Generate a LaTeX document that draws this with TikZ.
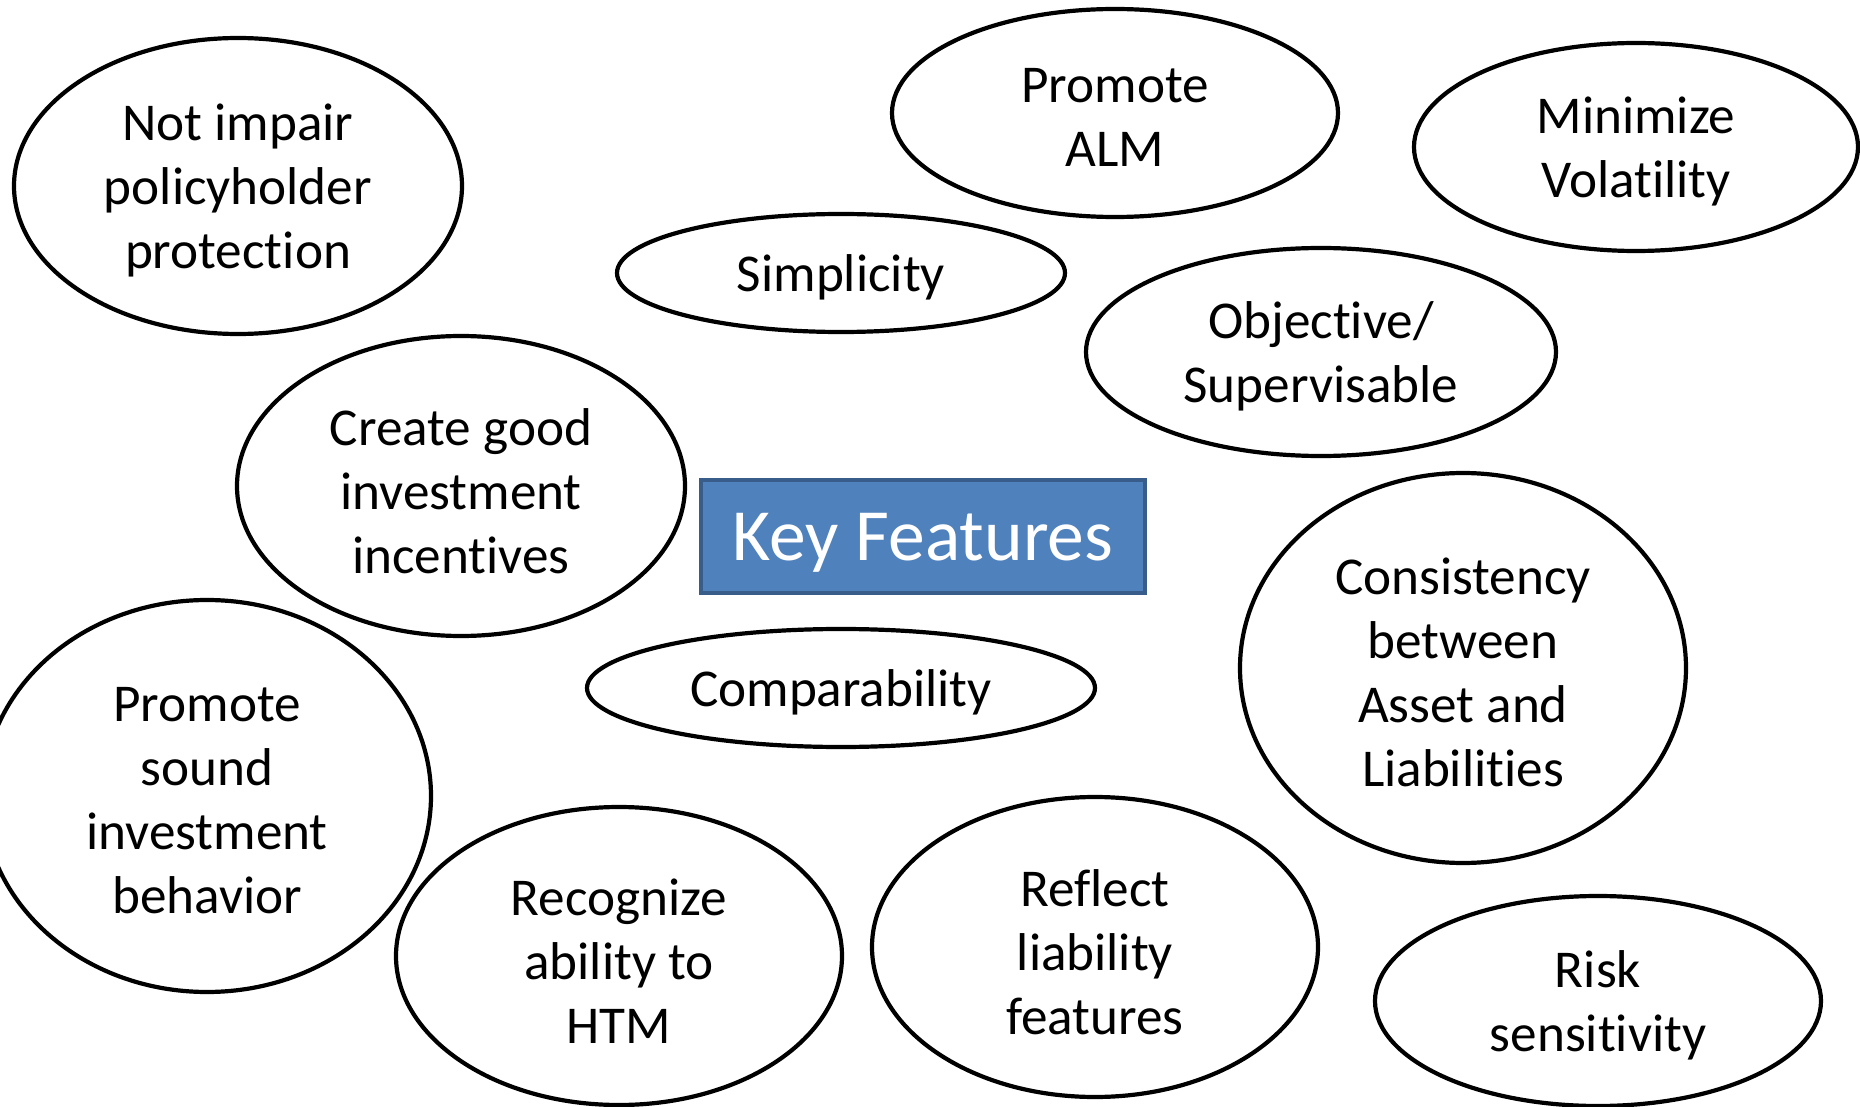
\documentclass[tikz,border=0pt]{standalone}
\usepackage{fontspec}
\setmainfont{Carlito}[RawFeature={-liga;-dlig;-clig;-calt}]
\usetikzlibrary{shapes.geometric}
\definecolor{boxfill}{HTML}{4F81BD}
\definecolor{boxline}{HTML}{385D8A}
\tikzset{
  feat/.style={ellipse, draw=black, line width=2.1pt, inner sep=0pt},
  feattext/.style={align=center, inner sep=0pt, yshift=-2.4pt,
    font=\fontsize{26.6}{32}\selectfont},
  keybox/.style={rectangle, draw=boxline, fill=boxfill, line width=1.6pt, inner sep=0pt},
  keytext/.style={inner sep=0pt, yshift=-3pt, text=white,
    font=\fontsize{36.8}{44}\selectfont}
}
\newcommand\featnode[5]{%
  \node[feat, minimum width=#3pt, minimum height=#4pt,
    label={[feattext]center:{#5}}] (#1) at (#2) {};}
\begin{document}
\begin{tikzpicture}[x=0.5pt,y=-0.5pt]
\useasboundingbox (0,0) rectangle (1860,1107);
\featnode{n1}{238,186}{224}{148}{Not impair\\policyholder\\protection}
\featnode{n2}{1115,113}{223}{104}{Promote\\ALM}
\featnode{n3}{1636,147}{222}{104}{Minimize\\Volatility}
\featnode{n4}{841,273}{224}{59}{Simplicity}
\featnode{n5}{1321,352}{235}{104}{Objective/\\Supervisable}
\featnode{n6}{461,486}{224}{150}{Create good\\investment\\incentives}
\node[keybox, minimum width=222pt, minimum height=56.5pt,
  label={[keytext]center:Key Features}] (key) at (923,536.5) {};
\featnode{n8}{1463,668}{223}{195}{Consistency\\between\\Asset and\\Liabilities}
\featnode{n9}{841,688}{254}{59}{Comparability}
\featnode{n10}{207,796}{224}{196}{Promote\\sound\\investment\\behavior}
\featnode{n11}{619,956}{223}{149}{Recognize\\ability to\\HTM}
\featnode{n12}{1095,947}{223}{150}{Reflect\\liability\\features}
\featnode{n13}{1598,1001}{223}{105}{Risk\\sensitivity}
\end{tikzpicture}
\end{document}
